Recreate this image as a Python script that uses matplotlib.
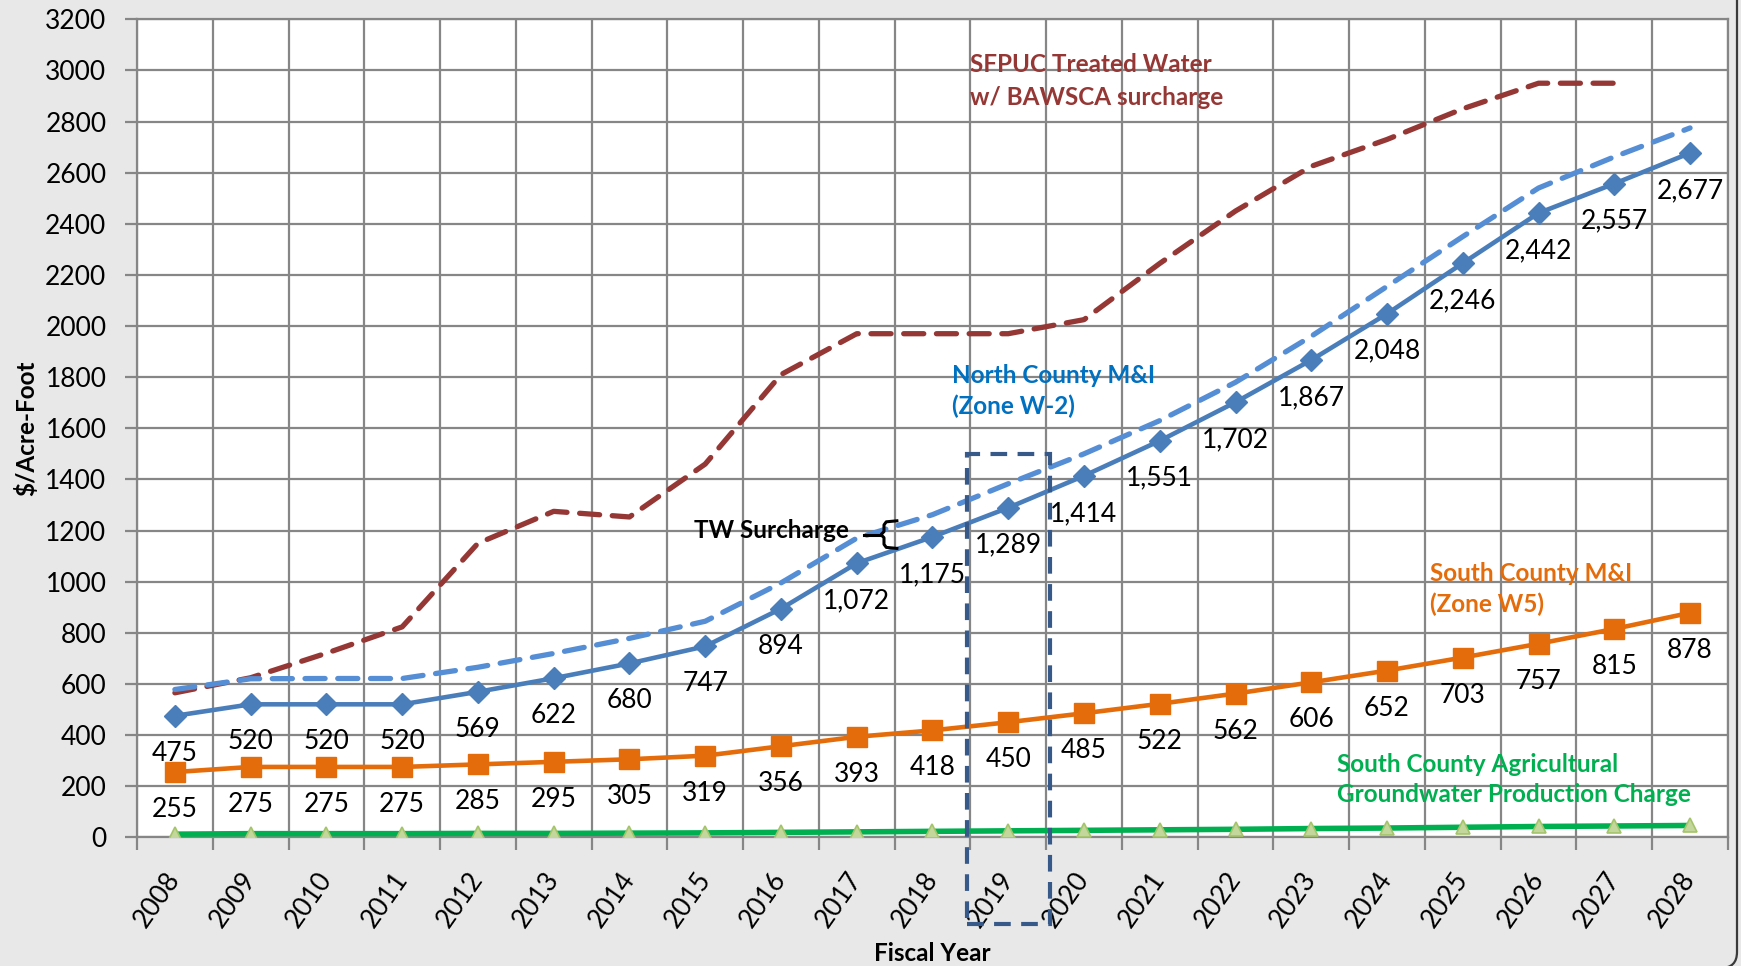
import matplotlib.pyplot as plt
from matplotlib.patches import Rectangle, FancyBboxPatch
import numpy as np

plt.rcParams['font.family'] = ['Lato', 'DejaVu Sans']

years = ['2008', '2009', '2010', '2011', '2012', '2013', '2014', '2015', '2016', '2017', '2018',
         '2019', '2020', '2021', '2022', '2023', '2024', '2025', '2026', '2027', '2028']

# North County M&I (Zone W-2)
north = [475, 520, 520, 520, 569, 622, 680, 747, 894, 1072, 1175,
         1289, 1414, 1551, 1702, 1867, 2048, 2246, 2442, 2557, 2677]
# North County incl. treated water surcharge (dashed)
north_tw = [578, 620, 621, 621, 665, 719, 778, 845, 995, 1170, 1262,
            1383, 1500, 1630, 1780, 1960, 2155, 2350, 2540, 2662, 2775]
# SFPUC treated water w/ BAWSCA surcharge (no 2028 value)
sfpuc = [565, 624, 720, 823, 1150, 1275, 1253, 1460, 1810, 1970, 1970,
         1970, 2025, 2245, 2450, 2625, 2730, 2850, 2950, 2950]
# South County M&I (Zone W5)
south = [255, 275, 275, 275, 285, 295, 305, 319, 356, 393, 418,
         450, 485, 522, 562, 606, 652, 703, 757, 815, 878]
# South County agricultural groundwater production charge
ag = [12, 14, 14, 14, 15, 15, 16, 17, 19, 21, 23,
      25, 27, 29, 31, 34, 36, 39, 42, 44, 46]

x = np.arange(len(years))

fig = plt.figure(figsize=(17.41, 9.66), dpi=100, facecolor='#e8e8e8')
ax = fig.add_axes([0.0787, 0.1333, 0.9925 - 0.0787, 0.980 - 0.1333])
ax.set_facecolor('white')

# frame around the whole chart (only right edge / rounded corner visible)
fig.patches.append(FancyBboxPatch((-60, -2), 1737 + 60, 1100,
                                  boxstyle='round,pad=0,rounding_size=16',
                                  transform=None, fc='none', ec='#3a3a3a', lw=1.6))

# lines
ax.plot(x[:len(sfpuc)], sfpuc, color='#953735', lw=3.8, ls=(0, (3.8, 2.4)),
        dash_capstyle='round', zorder=3)
ax.plot(x, north_tw, color='#558ed5', lw=3.8, ls=(0, (3.8, 2.4)),
        dash_capstyle='round', zorder=3)
ax.plot(x, north, color='#4a7ebb', lw=3.3, marker='D', ms=11, zorder=4)
ax.plot(x, south, color='#e46c0a', lw=3.3, marker='s', ms=14, zorder=4)
ax.plot(x, ag, color='#00b050', lw=4, marker='^', ms=10,
        mfc='#c3d69b', mec='#a4c46a', mew=1.2, zorder=4)

# data labels
for i, v in enumerate(north):
    ax.annotate(f'{v:,}', (i, v), xytext=(0, -27), textcoords='offset points',
                ha='center', va='center', fontsize=19, zorder=5)
for i, v in enumerate(south):
    ax.annotate(f'{v:,}', (i, v), xytext=(0, -27), textcoords='offset points',
                ha='center', va='center', fontsize=19, zorder=5)

# series captions
ax.text(10.5, 2995, 'SFPUC Treated Water', color='#953735',
        fontsize=17.5, fontweight='bold', ha='left', va='baseline')
ax.text(10.5, 2866, 'w/ BAWSCA surcharge', color='#953735',
        fontsize=17.5, fontweight='bold', ha='left', va='baseline')
ax.text(10.26, 1745, 'North County M&I\n(Zone W-2)', color='#0070c0',
        fontsize=17.5, fontweight='bold', ha='left', va='center', linespacing=1.4)
ax.text(16.57, 970, 'South County M&I\n(Zone W5)', color='#e46c0a',
        fontsize=17.5, fontweight='bold', ha='left', va='center', linespacing=1.4)
ax.text(15.34, 226, 'South County Agricultural\nGroundwater Production Charge', color='#00b050',
        fontsize=17.5, fontweight='bold', ha='left', va='center', linespacing=1.4)

# TW surcharge bracket
ax.text(8.9, 1200, 'TW Surcharge', fontsize=17.5, fontweight='bold', ha='right', va='center')
ax.plot([9.10, 9.32], [1184, 1184], color='black', lw=2.2, zorder=5)
ax.plot([9.53, 9.39, 9.36, 9.36, 9.32, 9.36, 9.36, 9.39, 9.53],
        [1238, 1234, 1222, 1196, 1184, 1172, 1146, 1134, 1130],
        color='black', lw=2.2, zorder=5)

# highlight box around FY2019
ax.add_patch(Rectangle((10.46, -339), 1.09, 1498 + 339, fill=False, ec='#36598a',
                       lw=3, ls=(0, (4, 2.5)), clip_on=False, zorder=6))

# axes, grid, ticks
ax.set_xlim(-0.5, 20.5)
ax.set_ylim(0, 3200)
ax.set_yticks(np.arange(0, 3201, 200))
ax.set_xticks(x)
ax.set_xticklabels(years, rotation=55, ha='right', va='center', rotation_mode='anchor')
ax.set_xticks(np.arange(-0.5, 21, 1), minor=True)
ax.tick_params(axis='x', which='major', length=0, pad=27, labelsize=19)
ax.tick_params(axis='x', which='minor', length=9, width=1.6, color='#868686', direction='out')
ax.tick_params(axis='y', length=9, width=1.6, color='#868686', direction='out',
               labelsize=19, pad=13)
ax.grid(True, axis='y', which='major', color='#868686', lw=1.6)
ax.grid(True, axis='x', which='minor', color='#868686', lw=1.6)
ax.set_axisbelow(True)
for s in ax.spines.values():
    s.set_color('#868686')
    s.set_linewidth(1.6)

ax.set_ylabel('$/Acre-Foot', fontsize=17.5, fontweight='bold', labelpad=5)
ax.set_xlabel('Fiscal Year', fontsize=17.5, fontweight='bold', labelpad=7)

fig.savefig('out.png', dpi=100, facecolor=fig.get_facecolor())
